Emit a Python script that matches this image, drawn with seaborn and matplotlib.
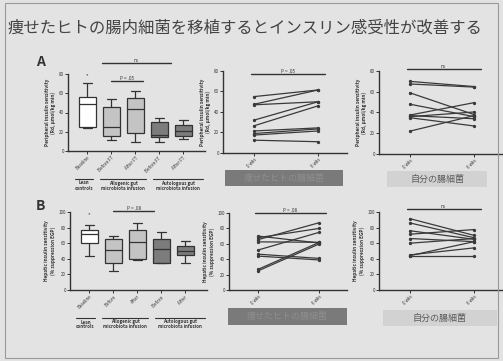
import numpy as np
import pandas as pd
import seaborn as sns
import matplotlib.pyplot as plt
from matplotlib.patches import Rectangle

sns.set_theme(style="ticks")
plt.rcParams["font.family"] = ["Noto Sans CJK JP", "DejaVu Sans"]

title = "痩せたヒトの腸内細菌を移植するとインスリン感受性が改善する"
donor_label = "痩せたヒトの腸細菌"
self_label = "自分の腸細菌"

# box plots: five-number summaries (min, q1, median, q3, max)
box_conditions_a = ["Baseline", "Before FT", "After FT", "Before FT ", "After FT "]
box_conditions_b = ["Baseline", "Before", "After", "Before ", "After "]
groups = ["Lean\ncontrols", "Allogenic gut\nmicrobiota infusion", "Autologous gut\nmicrobiota infusion"]
peripheral_box = [
    [24, 25, 49, 56, 71],
    [11, 16, 25, 46, 54],
    [9, 19, 44, 55, 62],
    [9, 15, 17, 30, 34],
    [12, 16, 21, 27, 32],
]
hepatic_box = [
    [43, 60, 72, 77, 83],
    [25, 35, 51, 65, 69],
    [39, 40, 62, 77, 86],
    [35, 35, 52, 65, 74],
    [35, 45, 50, 57, 63],
]
box_colors = ["#ffffff", "#c4c4c4", "#c4c4c4", "#7c7c7c", "#7c7c7c"]

# paired lines: 0 wks -> 6 wks
weeks = ["0 wks", "6 wks"]
periph_allo_0 = [55, 47.5, 47, 32, 26.5, 21.5, 19, 17.5, 12.5]
periph_allo_6 = [61.5, 61.5, 50, 50, 46, 24.5, 23.5, 21.5, 11]
periph_auto_0 = [70, 67.5, 59, 48, 37.5, 37, 36, 35, 22]
periph_auto_6 = [65, 64.5, 38, 36, 49.5, 34, 40.5, 27, 37]
hep_allo_0 = [70, 68, 65.5, 62.5, 52, 46.5, 44, 27, 25]
hep_allo_6 = [61, 80, 87.5, 62, 75, 41, 39, 62, 60]
hep_auto_0 = [91.5, 86, 76, 71.5, 66, 60, 45, 43.5, 44]
hep_auto_6 = [70, 67, 65, 77.5, 62, 66, 54, 43.5, 62]

W, H = 503, 361
fig = plt.figure(figsize=(W / 100, H / 100), dpi=100, facecolor="#e3e3e3")


def px_axes(x0, y_top, x1, y_bot):
    # axes placed from pixel coordinates of the slide photo
    return fig.add_axes([x0 / W, 1 - y_bot / H, (x1 - x0) / W, (y_bot - y_top) / H])


def fx(x):
    return x / W


def fy(y):
    return 1 - y / H


ink = "#333333"
tick_fs = 3.2


def style_axes(ax, ylabel, yticks):
    ax.set_facecolor("none")
    sns.despine(ax=ax)
    for s in ["left", "bottom"]:
        ax.spines[s].set_color(ink)
        ax.spines[s].set_linewidth(1.0)
    ax.set_yticks(yticks)
    ax.tick_params(axis="both", colors=ink, labelsize=tick_fs, length=2, width=0.7, pad=1)
    ax.set_ylabel(ylabel, fontsize=3.4, color=ink, fontweight="bold", labelpad=2)
    ax.set_xlabel("")


def draw_box(ax, conditions, summaries, ylim, yticks, ylabel):
    df = pd.DataFrame(
        {
            "cond": np.repeat(conditions, 5),
            "val": np.concatenate(summaries),
        }
    )
    sns.boxplot(
        data=df, x="cond", y="val", hue="cond", palette=box_colors, legend=False,
        whis=(0, 100), width=0.72, linecolor=ink, linewidth=0.9, ax=ax,
    )
    ax.set_xlim(-0.8, 4.9)
    ax.set_ylim(*ylim)
    style_axes(ax, ylabel, yticks)
    ax.set_xticks(range(5))
    ax.set_xticklabels(conditions, rotation=45, ha="right", rotation_mode="anchor", fontsize=tick_fs)


def draw_pairs(ax, before, after, ylim, yticks, ylabel):
    n = len(before)
    df = pd.DataFrame(
        {
            "id": list(range(n)) * 2,
            "t": [0] * n + [1] * n,
            "val": before + after,
        }
    )
    sns.lineplot(
        data=df, x="t", y="val", units="id", estimator=None, color="#3a3a3a",
        marker="o", markersize=2.4, markeredgewidth=0, linewidth=0.9, ax=ax,
    )
    ax.set_xlim(-0.48, 1.45)
    ax.set_ylim(*ylim)
    style_axes(ax, ylabel, yticks)
    ax.set_xticks([0, 1])
    ax.set_xticklabels(weeks, rotation=45, ha="right", rotation_mode="anchor", fontsize=tick_fs)


def sig(ax, x0, x1, y, text):
    ax.plot([x0, x1], [y, y], color=ink, lw=1.0, clip_on=False)
    ax.text((x0 + x1) / 2, y, text, ha="center", va="bottom", fontsize=3.4,
            color=ink, style="italic", clip_on=False)


periph_label = "Peripheral insulin sensitivity\n(Rd, μmol/kg min)"
hep_label = "Hepatic insulin sensitivity\n(% suppression EGP)"

# slide frame and title
fig.patches.append(Rectangle((fx(5), fy(358)), fx(498) - fx(5), fy(3) - fy(358),
                             transform=fig.transFigure, fill=False, ec="#9a9a9a", lw=0.8))
fig.text(fx(8), fy(28), title, fontsize=11.8, color="#444444", va="center", ha="left")

# row A
ax = px_axes(68, 74, 205, 151)
draw_box(ax, box_conditions_a, peripheral_box, (0, 80), [0, 20, 40, 60, 80], periph_label)
sig(ax, 1, 2.3, 73, "P < .05")
sig(ax, 0.6, 3.5, 91, "ns")
ax.text(0, 78, "*", ha="center", va="center", fontsize=4, color=ink)

ax = px_axes(223, 71, 347, 153)
draw_pairs(ax, periph_allo_0, periph_allo_6, (0, 80), [0, 20, 40, 60, 80], periph_label)
sig(ax, -0.05, 1.1, 77, "P = .05")

ax = px_axes(379, 71, 503, 154)
draw_pairs(ax, periph_auto_0, periph_auto_6, (0, 80), [0, 20, 40, 60, 80], periph_label)
sig(ax, -0.05, 1.1, 82, "ns")

# row B
ax = px_axes(70, 212, 207, 290)
draw_box(ax, box_conditions_b, hepatic_box, (0, 100), [0, 20, 40, 60, 80, 100], hep_label)
sig(ax, 1, 2.7, 101, "P = .08")
ax.text(0, 97, "*", ha="center", va="center", fontsize=4, color=ink)

ax = px_axes(229, 213, 347, 290)
draw_pairs(ax, hep_allo_0, hep_allo_6, (0, 100), [0, 20, 40, 60, 80, 100], hep_label)
sig(ax, -0.05, 1.1, 100, "P = .08")

ax = px_axes(379, 212, 503, 290)
draw_pairs(ax, hep_auto_0, hep_auto_6, (0, 100), [0, 20, 40, 60, 80, 100], hep_label)
sig(ax, -0.05, 1.1, 104, "ns")

# panel letters
fig.text(fx(36), fy(62), "A", fontsize=10, fontweight="bold", color="#333333", va="center")
fig.text(fx(36), fy(206), "B", fontsize=10, fontweight="bold", color="#333333", va="center")

# group brackets under the box plots
for y_line, x_spans in [(179, [(75, 93), (100, 146), (153, 203)]),
                        (318, [(76, 95), (102, 148), (155, 205)])]:
    for (a, b), g in zip(x_spans, groups):
        fig.add_artist(plt.Line2D([fx(a), fx(b)], [fy(y_line), fy(y_line)], color=ink, lw=0.8))
        fig.text(fx((a + b) / 2), fy(y_line + 1.5), g, ha="center", va="top",
                 fontsize=3.2, color=ink, fontweight="bold", linespacing=1.0)

# label boxes under the paired plots
for (x0, y0, x1, y1), face, txt, tc in [
    ((225, 170, 343, 186), "#7a7a7a", donor_label, "#8e8e8e"),
    ((387, 171, 487, 187), "#d2d2d2", self_label, "#5a5a5a"),
    ((228, 308, 347, 325), "#7a7a7a", donor_label, "#8e8e8e"),
    ((383, 310, 497, 326), "#d2d2d2", self_label, "#5a5a5a"),
]:
    fig.patches.append(Rectangle((fx(x0), fy(y1)), fx(x1) - fx(x0), fy(y0) - fy(y1),
                                 transform=fig.transFigure, fc=face, ec="none"))
    fig.text(fx((x0 + x1) / 2), fy((y0 + y1) / 2), txt, ha="center", va="center",
             fontsize=6.5, color=tc)

fig.savefig("out.png", dpi=100, facecolor=fig.get_facecolor())
